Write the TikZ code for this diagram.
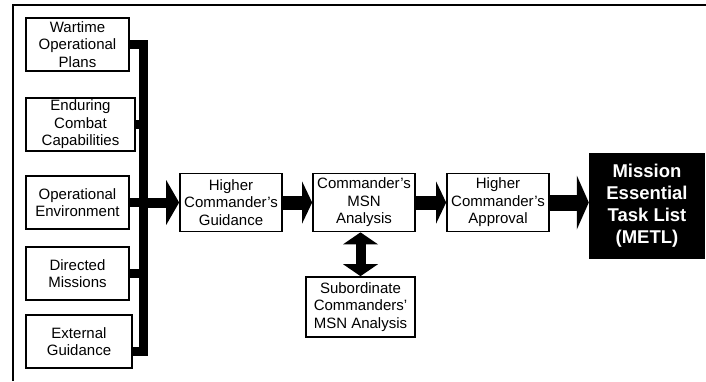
\documentclass[tikz,border=0pt]{standalone}
\usepackage{fontspec}
\setmainfont{Liberation Sans}
\usetikzlibrary{arrows.meta}
\usetikzlibrary{positioning}

\begin{document}
\begin{tikzpicture}[x=1pt, y=-1pt,
	inbox/.style={rectangle, draw, line width=1.7pt, minimum width=103pt, minimum height=53pt, align=center, inner sep=1pt, font=\fontsize{15}{17.5}\selectfont},
	stepbox/.style={inbox, minimum width=102pt, minimum height=58pt},
	bus/.style={line width=9pt},
	flow/.style={line width=14pt, -{Triangle[length=10pt, width=42pt, line width'=0pt]}}]
	\useasboundingbox (0,0) rectangle (706,381);

	% --- Frame ---
	\draw[line width=2.8pt] (13,381) -- (13,5) -- (706,5);

	% --- Inputs ---
	\node[inbox] (wop) at (77.5, 44.5) {Wartime\\Operational\\Plans};
	\node[inbox, minimum width=109pt] (ecc) at (80.5, 124.5) {Enduring\\Combat\\Capabilities};
	\node[inbox] (oen) at (77.5, 202.5) {Operational\\Environment};
	\node[inbox] (dmi) at (77.5, 273.5) {Directed\\Missions};
	\node[inbox, minimum width=106pt] (ext) at (79, 341.5) {External\\Guidance};

	% --- Steps ---
	\node[stepbox] (hcg) at (231, 202.5) {Higher\\Commander's\\Guidance};
	\node[stepbox] (cma) at (364, 202.5) {Commander's\\MSN\\Analysis};
	\node[stepbox, minimum width=109pt, minimum height=60pt] (sub) at (360.5, 307) {Subordinate\\Commanders'\\MSN Analysis};
	\node[stepbox] (hca) at (498, 202.5) {Higher\\Commander's\\Approval};
	\node[rectangle, fill=black, text=white, minimum width=116pt, minimum height=106pt, align=center, font=\bfseries\fontsize{18.5}{22}\selectfont] (metl) at (647, 206) {Mission\\Essential\\Task List\\(METL)};

	% --- Bus ---
	\coordinate (busx) at (143.5, 0);
	\coordinate (extin) at ([yshift=-9.5pt]ext.east);
	\draw[bus] (wop.east) -- (wop.east -| busx) -- (extin -| busx) -- (extin);
	\foreach \n in {ecc, oen, dmi}
		\draw[bus] (\n.east) -- (\n.east -| busx);

	% --- Arrows ---
	\draw[flow, line width=10pt, -{Triangle[length=13pt, width=45pt, line width'=0pt]}] (oen.east -| busx) -- (hcg.west);
	\draw[flow] (hcg) -- (cma);
	\draw[flow] (cma) -- (hca);
	\draw[flow, line width=16pt, -{Triangle[length=12pt, width=54pt, line width'=0pt]}] (hca.east) -- (hca.east -| metl.west);
	\draw[line width=10pt, {Triangle[length=12pt, width=35pt, line width'=0pt]}-{Triangle[length=12pt, width=35pt, line width'=0pt]}] (cma.south -| sub.north) -- (sub.north);

\end{tikzpicture}
\end{document}
